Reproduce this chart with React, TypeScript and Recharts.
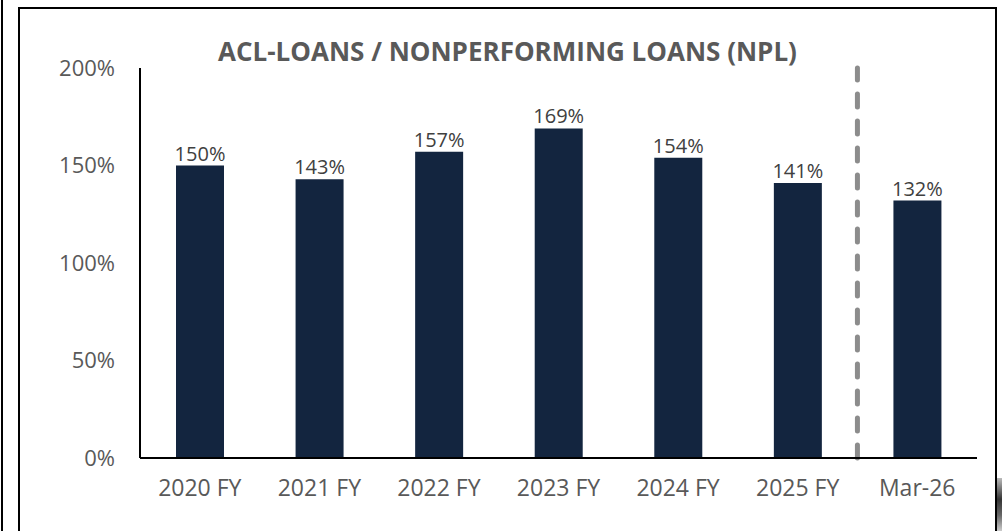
import { BarChart, Bar, XAxis, YAxis, LabelList, ReferenceLine } from 'recharts';

const periods = ['2020 FY', '2021 FY', '2022 FY', '2023 FY', '2024 FY', '2025 FY', 'Mar-26'];
const coverage = [150, 143, 157, 169, 154, 141, 132];
const yTicks = [0, 50, 100, 150, 200];

const data = periods.map((p, i) => ({ period: p, value: coverage[i] }));

const FONT = '"Open Sans", sans-serif';

export default function App() {
  return (
    <div style={{ position: 'fixed', left: 0, top: 0, width: 1003, height: 531, background: '#fff', fontFamily: FONT, overflow: 'hidden' }}>
      <div style={{ position: 'absolute', left: 1, top: 0, width: 2, height: 531, background: '#000' }} />
      <div
        style={{
          position: 'absolute',
          left: 18,
          top: 7,
          width: 975,
          height: 530,
          borderTop: '2px solid #000',
          borderLeft: '2px solid #000',
          borderRight: '2px solid #000',
        }}
      />
      <div
        style={{
          position: 'absolute',
          left: 997,
          top: 478,
          width: 5,
          height: 53,
          background: 'linear-gradient(to bottom, #bbb, #333 40%, #666 70%, #ccc)',
        }}
      />
      <div
        style={{
          position: 'absolute',
          left: 0,
          width: 1003,
          top: 33,
          textAlign: 'center',
          fontSize: 26,
          fontWeight: 700,
          color: '#595959',
          paddingLeft: 12,
          boxSizing: 'border-box',
          whiteSpace: 'nowrap',
        }}
      >
        ACL-LOANS / NONPERFORMING LOANS (NPL)
      </div>
      <div style={{ position: 'absolute', left: 0, top: 0 }}>
        <BarChart width={1003} height={531} data={data} margin={{ top: 68, right: 26, bottom: 0, left: 0 }}>
          <XAxis
            dataKey="period"
            height={73}
            axisLine={{ stroke: '#000', strokeWidth: 2 }}
            tickLine={false}
            tickMargin={16}
            tick={{ fill: '#595959', fontSize: 23, fontFamily: FONT }}
          />
          <YAxis
            width={140}
            domain={[0, 200]}
            ticks={yTicks}
            tickFormatter={(v) => `${v}%`}
            axisLine={{ stroke: '#000', strokeWidth: 2 }}
            tickLine={false}
            tickSize={0}
            tickMargin={25}
            tick={{ fill: '#595959', fontSize: 22, fontFamily: FONT }}
          />
          <ReferenceLine
            x="Mar-26"
            position="start"
            stroke="#8c8c8c"
            strokeWidth={5}
            strokeDasharray="13 14"
            strokeLinecap="round"
          />
          <Bar dataKey="value" fill="#13253f" barSize={48} isAnimationActive={false}>
            <LabelList
              dataKey="value"
              position="top"
              offset={5}
              formatter={(v: number) => `${v}%`}
              style={{ fill: '#404040', fontSize: 20, fontFamily: FONT }}
            />
          </Bar>
        </BarChart>
      </div>
    </div>
  );
}
